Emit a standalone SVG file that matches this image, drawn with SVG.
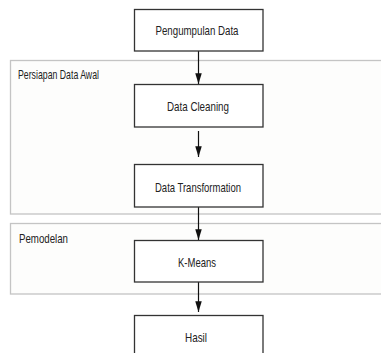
<svg xmlns="http://www.w3.org/2000/svg" width="381" height="353" viewBox="0 0 381 353">
<defs>
<marker id="ah" markerWidth="11" markerHeight="6.5" refX="10" refY="3" orient="auto" markerUnits="userSpaceOnUse" viewBox="0 0 10 6">
<path d="M0,0 L10,3 L0,6 Z" fill="#111"/>
</marker>
<style>
.grp{fill:#fdfdfc;stroke:#c4c4c4;stroke-width:1.3}
.box{fill:#ffffff;stroke:#333333;stroke-width:1.3}
.t{font-family:"Liberation Sans",Arial,sans-serif;font-size:13.5px;fill:#222222}
.c{text-anchor:middle}
.ln{stroke:#111;stroke-width:1.2;fill:none}
</style>
</defs>
<rect width="381" height="353" fill="#ffffff"/>
<g id="group-persiapan">
<rect class="grp" x="10.5" y="60.5" width="380" height="153.5"/>
<text class="t" x="18" y="79" textLength="81" lengthAdjust="spacingAndGlyphs">Persiapan Data Awal</text>
</g>
<g id="group-pemodelan">
<rect class="grp" x="10.5" y="223.5" width="380" height="70.5"/>
<text class="t" x="19" y="243" textLength="49" lengthAdjust="spacingAndGlyphs">Pemodelan</text>
</g>
<g id="connectors">
<line class="ln" x1="198.5" y1="51" x2="198.5" y2="84" marker-end="url(#ah)"/>
<line class="ln" x1="198.5" y1="131" x2="198.5" y2="157" marker-end="url(#ah)"/>
<line class="ln" x1="198.5" y1="207" x2="198.5" y2="240" marker-end="url(#ah)"/>
<line class="ln" x1="198.5" y1="282" x2="198.5" y2="312" marker-end="url(#ah)"/>
</g>
<g id="node-pengumpulan">
<rect class="box" x="134.5" y="9.5" width="128.5" height="41.5"/>
<text class="t c" x="197" y="35" textLength="83" lengthAdjust="spacingAndGlyphs">Pengumpulan Data</text>
</g>
<g id="node-cleaning">
<rect class="box" x="134.5" y="84.5" width="128.5" height="42.5"/>
<text class="t c" x="198" y="111" textLength="62" lengthAdjust="spacingAndGlyphs">Data Cleaning</text>
</g>
<g id="node-transformation">
<rect class="box" x="134.5" y="164.5" width="128.5" height="42.5"/>
<text class="t c" x="198" y="192" textLength="86" lengthAdjust="spacingAndGlyphs">Data Transformation</text>
</g>
<g id="node-kmeans">
<rect class="box" x="134.5" y="240.5" width="128.5" height="41.5"/>
<text class="t c" x="197" y="267" textLength="38" lengthAdjust="spacingAndGlyphs">K-Means</text>
</g>
<g id="node-hasil">
<rect class="box" x="134.5" y="315.5" width="128.5" height="45"/>
<text class="t c" x="196" y="342" textLength="22" lengthAdjust="spacingAndGlyphs">Hasil</text>
</g>
</svg>
